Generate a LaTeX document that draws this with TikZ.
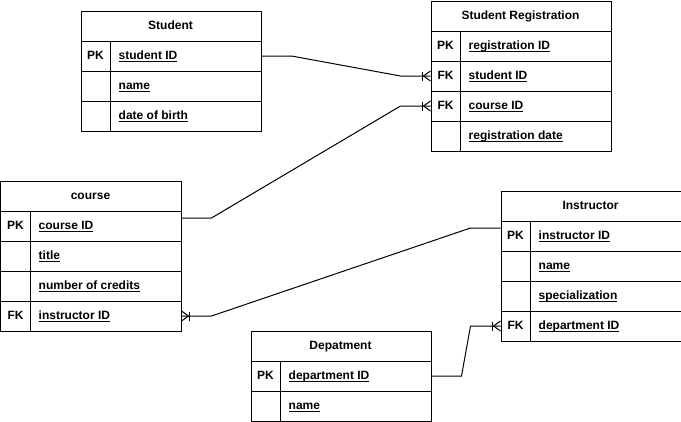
\documentclass[tikz,border=0pt]{standalone}
\usepackage{fontspec}
\setmainfont{Liberation Sans}
\usetikzlibrary{calc}
\newcommand\ulx[1]{\setbox0\hbox{#1}\rlap{\rule[-2.5pt]{\wd0}{1pt}}\box0}
\tikzset{
  ln/.style={draw=black,line width=1pt},
  cell/.style={ln,rectangle,inner sep=0pt,minimum height=30pt,minimum width=180pt},
  txt/.style={inner sep=0pt,font=\fontsize{12}{14}\selectfont\bfseries}
}
\newcommand\ertable[5]{%
  \node[cell,anchor=north west] (#1-h) at (#2,#3) {};
  \node[txt,anchor=base] (#1-t) at (#2+90,#3+19) {#4};
  \foreach \k/\f [count=\i] in {#5} {
    \node[cell,anchor=north west] (#1-r\i) at (#2,#3+30*\i) {};
    \draw[ln] (#2+30,#3+30*\i) -- (#2+30,#3+30*\i+30);
    \node[txt,anchor=base] (#1-k\i) at (#2+15,#3+30*\i+19) {\k};
    \node[txt,anchor=base west] (#1-f\i) at (#2+38,#3+30*\i+19) {\ulx{\f}};
  }
}
\newcommand\cfleft[1]{%
  \draw[ln] ($(#1)+(-8,-4.5)$) -- ($(#1)+(-8,4.5)$);
  \draw[ln] ($(#1)+(0,-5)$) -- ($(#1)+(-7,0)$) -- ($(#1)+(0,5)$);}
\newcommand\cfright[1]{%
  \draw[ln] ($(#1)+(8,-4.5)$) -- ($(#1)+(8,4.5)$);
  \draw[ln] ($(#1)+(0,-5)$) -- ($(#1)+(7,0)$) -- ($(#1)+(0,5)$);}
\begin{document}
\begin{tikzpicture}[x=1pt,y=-1pt]
\useasboundingbox (-0.5,-0.5) rectangle (680.5,420.5);
\ertable{stu}{80}{10}{Student}{PK/student ID,/name,/date of birth}
\ertable{reg}{430}{0}{Student Registration}{PK/registration ID,FK/student ID,FK/course ID,/registration date}
\ertable{crs}{0}{180}{course}{PK/course ID,/title,/number of credits,FK/instructor ID}
\ertable{ins}{500}{190}{Instructor}{PK/instructor ID,/name,/specialization,FK/department ID}
\ertable{dep}{250}{330}{Depatment}{PK/department ID,/name}
% connectors
\draw[ln] (stu-r1.east) -- ++(30,0) -- ($(reg-r2.west)+(-30,0)$) -- (reg-r2.west);
\cfleft{reg-r2.west}
\coordinate (c1) at ($(crs-r1.east)+(0,-8)$);
\draw[ln] (c1) -- ++(30,0) -- ($(reg-r3.west)+(-30,0)$) -- (reg-r3.west);
\cfleft{reg-r3.west}
\coordinate (i1) at ($(ins-r1.west)+(0,-8)$);
\draw[ln] (i1) -- ++(-30,0) -- ($(crs-r4.east)+(30,0)$) -- (crs-r4.east);
\cfright{crs-r4.east}
\draw[ln] (dep-r1.east) -- ++(30,0) -- ($(ins-r4.west)+(-30,0)$) -- (ins-r4.west);
\cfleft{ins-r4.west}
\end{tikzpicture}
\end{document}
